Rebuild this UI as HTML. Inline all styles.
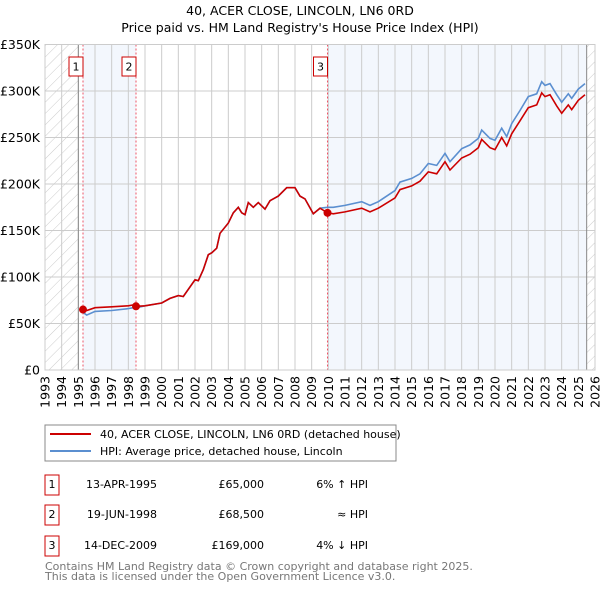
<!DOCTYPE html>
<html><head><meta charset="utf-8"><style>
body{margin:0;background:#fff;font-family:"DejaVu Sans","Liberation Sans",sans-serif;}
svg text{font-family:"DejaVu Sans","Liberation Sans",sans-serif;}
</style></head><body>
<svg id="c" width="600" height="590" xmlns="http://www.w3.org/2000/svg">
<defs><pattern id="hatch" width="8" height="8" patternUnits="userSpaceOnUse" patternTransform="rotate(45)"><line x1="0" y1="0" x2="0" y2="8" stroke="#ccc" stroke-width="1"/></pattern></defs>
<text x="300" y="15" text-anchor="middle" font-size="12.5">40, ACER CLOSE, LINCOLN, LN6 0RD</text>
<text x="300" y="32" text-anchor="middle" font-size="12.5">Price paid vs. HM Land Registry's House Price Index (HPI)</text>
<g id="plot"></g>
<g>
<rect x="45" y="425" width="351" height="36" fill="#fff" stroke="#888"/>
<line x1="50" y1="434" x2="91" y2="434" stroke="#cc0000" stroke-width="2"/>
<text x="100" y="438" font-size="11">40, ACER CLOSE, LINCOLN, LN6 0RD (detached house)</text>
<line x1="50" y1="451" x2="91" y2="451" stroke="#5b8fd0" stroke-width="2"/>
<text x="100" y="455" font-size="11">HPI: Average price, detached house, Lincoln</text>
</g>
<g font-size="11">
<rect x="45" y="475" width="14" height="20" fill="#fff" stroke="#cc0000"/><text x="52" y="488" text-anchor="middle">1</text>
<text x="157" y="488" text-anchor="end">13-APR-1995</text><text x="264" y="488" text-anchor="end">£65,000</text><text x="368" y="488" text-anchor="end">6% ↑ HPI</text>
<rect x="45" y="505" width="14" height="20" fill="#fff" stroke="#cc0000"/><text x="52" y="518" text-anchor="middle">2</text>
<text x="157" y="518" text-anchor="end">19-JUN-1998</text><text x="264" y="518" text-anchor="end">£68,500</text><text x="368" y="518" text-anchor="end">≈ HPI</text>
<rect x="45" y="536" width="14" height="20" fill="#fff" stroke="#cc0000"/><text x="52" y="549" text-anchor="middle">3</text>
<text x="157" y="549" text-anchor="end">14-DEC-2009</text><text x="264" y="549" text-anchor="end">£169,000</text><text x="368" y="549" text-anchor="end">4% ↓ HPI</text>
</g>
<text x="45" y="570" font-size="11" fill="#777">Contains HM Land Registry data © Crown copyright and database right 2025.</text>
<text x="45" y="580" font-size="11" fill="#777">This data is licensed under the Open Government Licence v3.0.</text>
</svg>
<script>
const hpiYears=[1995.28,1995.5,1996,1997,1998,1998.3,1998.5,1999,2000,2000.5,2001,2001.3,2002,2002.2,2002.5,2002.8,2003,2003.3,2003.5,2004,2004.3,2004.6,2004.8,2005,2005.2,2005.5,2005.8,2006.2,2006.5,2007,2007.5,2008,2008.3,2008.6,2009.1,2009.5,2009.95,2010.3,2011,2012,2012.5,2013,2014,2014.3,2015,2015.5,2016,2016.5,2017,2017.3,2018,2018.5,2019,2019.2,2019.7,2020,2020.4,2020.7,2021,2021.5,2022,2022.5,2022.8,2023,2023.3,2023.7,2024,2024.4,2024.6,2025,2025.4];
const hpiValues=[62,59,63,64,66,67,67,69,72,77,80,79,97,96,108,124,126,131,147,158,169,175,169,167,180,175,180,173,182,187,196,196,187,184,168,174,175,175,177,181,177,181,193,202,206,211,222,220,233,224,238,242,249,258,249,247,260,251,265,279,294,297,310,306,308,296,288,297,292,302,308];
const redValues=[65,64,67,68,69,70,68.5,69,72,77,80,79,97,96,108,124,126,131,147,158,169,175,169,167,180,175,180,173,182,187,196,196,187,184,168,174,169,168,170,174,170,174,185,194,198,203,213,211,224,215,228,232,239,248,239,237,250,241,254,268,282,285,298,294,296,284,276,285,280,290,296];
const saleYears=[1995.28,1998.46,2009.95];
const salePrices=[65,68.5,169];
const yTicks=[0,50,100,150,200,250,300,350];
const yTickLabels=["£0","£50K","£100K","£150K","£200K","£250K","£300K","£350K"];
const xStart=1993,xEnd=2026;
const L=45,R=595,T=44.5,B=370;
const X=v=>L+(v-xStart)/(xEnd-xStart)*(R-L);
const Y=v=>B-v/350*(B-T);
const g=document.getElementById('plot');
const NS='http://www.w3.org/2000/svg';
function mk(t,a){const e=document.createElementNS(NS,t);for(const k in a)e.setAttribute(k,a[k]);g.appendChild(e);return e;}
let e;
e=mk('rect',{x:X(2025.5),y:T,width:R-X(2025.5),height:B-T,fill:'url(#hatch)'});


e=mk('rect',{x:L,y:T,width:X(1995)-L,height:B-T,fill:'url(#hatch)'});


e=mk('rect',{x:X(saleYears[0]),y:T,width:X(saleYears[1])-X(saleYears[0]),height:B-T,fill:'#eef3fc',opacity:0.7});


e=mk('rect',{x:X(saleYears[2]),y:T,width:X(2025.5)-X(saleYears[2]),height:B-T,fill:'#eef3fc',opacity:0.7});


for(let yr=xStart;yr<=xEnd;yr++){
 e=mk('line',{x1:X(yr),x2:X(yr),y1:T,y2:B,stroke:'#ccc','stroke-width':1});
 
 
 e=mk('text',{transform:`translate(${X(yr)+4.5},${B+6}) rotate(-90)`,'text-anchor':'end','font-size':12.5});
 e.textContent=yr;
 
 
}
yTicks.forEach((v,i)=>{
 e=mk('line',{x1:L,x2:R,y1:Y(v),y2:Y(v),stroke:'#ccc','stroke-width':1});
 
 
 e=mk('text',{x:L-5,y:Y(v)+4.5,'text-anchor':'end','font-size':12.5});
 e.textContent=yTickLabels[i];
 
 
});
e=mk('line',{x1:X(1995),x2:X(1995),y1:T,y2:B,stroke:'#888'});


e=mk('line',{x1:X(2025.5),x2:X(2025.5),y1:T,y2:B,stroke:'#888'});


saleYears.forEach((s,i)=>{
 e=mk('line',{x1:X(s),x2:X(s),y1:T,y2:B,stroke:'#ee5566','stroke-dasharray':'2,2'});
 
 
 e=mk('rect',{x:X(s)-14,y:57,width:14,height:19,fill:'#fff',stroke:'#cc0000'});
 
 
 e=mk('text',{x:X(s)-7,y:70.5,'text-anchor':'middle','font-size':11});
 e.textContent=String(i+1);
 
 
});
const pts=vals=>hpiYears.map((y,i)=>X(y).toFixed(1)+','+Y(vals[i]).toFixed(1)).join(' ');
e=mk('polyline',{points:pts(hpiValues),fill:'none',stroke:'#5b8fd0','stroke-width':1.6});


e=mk('polyline',{points:pts(redValues),fill:'none',stroke:'#cc0000','stroke-width':1.6});


saleYears.forEach((s,i)=>{
 e=mk('circle',{cx:X(s),cy:Y(salePrices[i]),r:4,fill:'#cc0000'});
 
 
});
e=mk('rect',{x:L,y:T,width:R-L,height:B-T,fill:'none',stroke:'#ccc'});


</script>
</body></html>
